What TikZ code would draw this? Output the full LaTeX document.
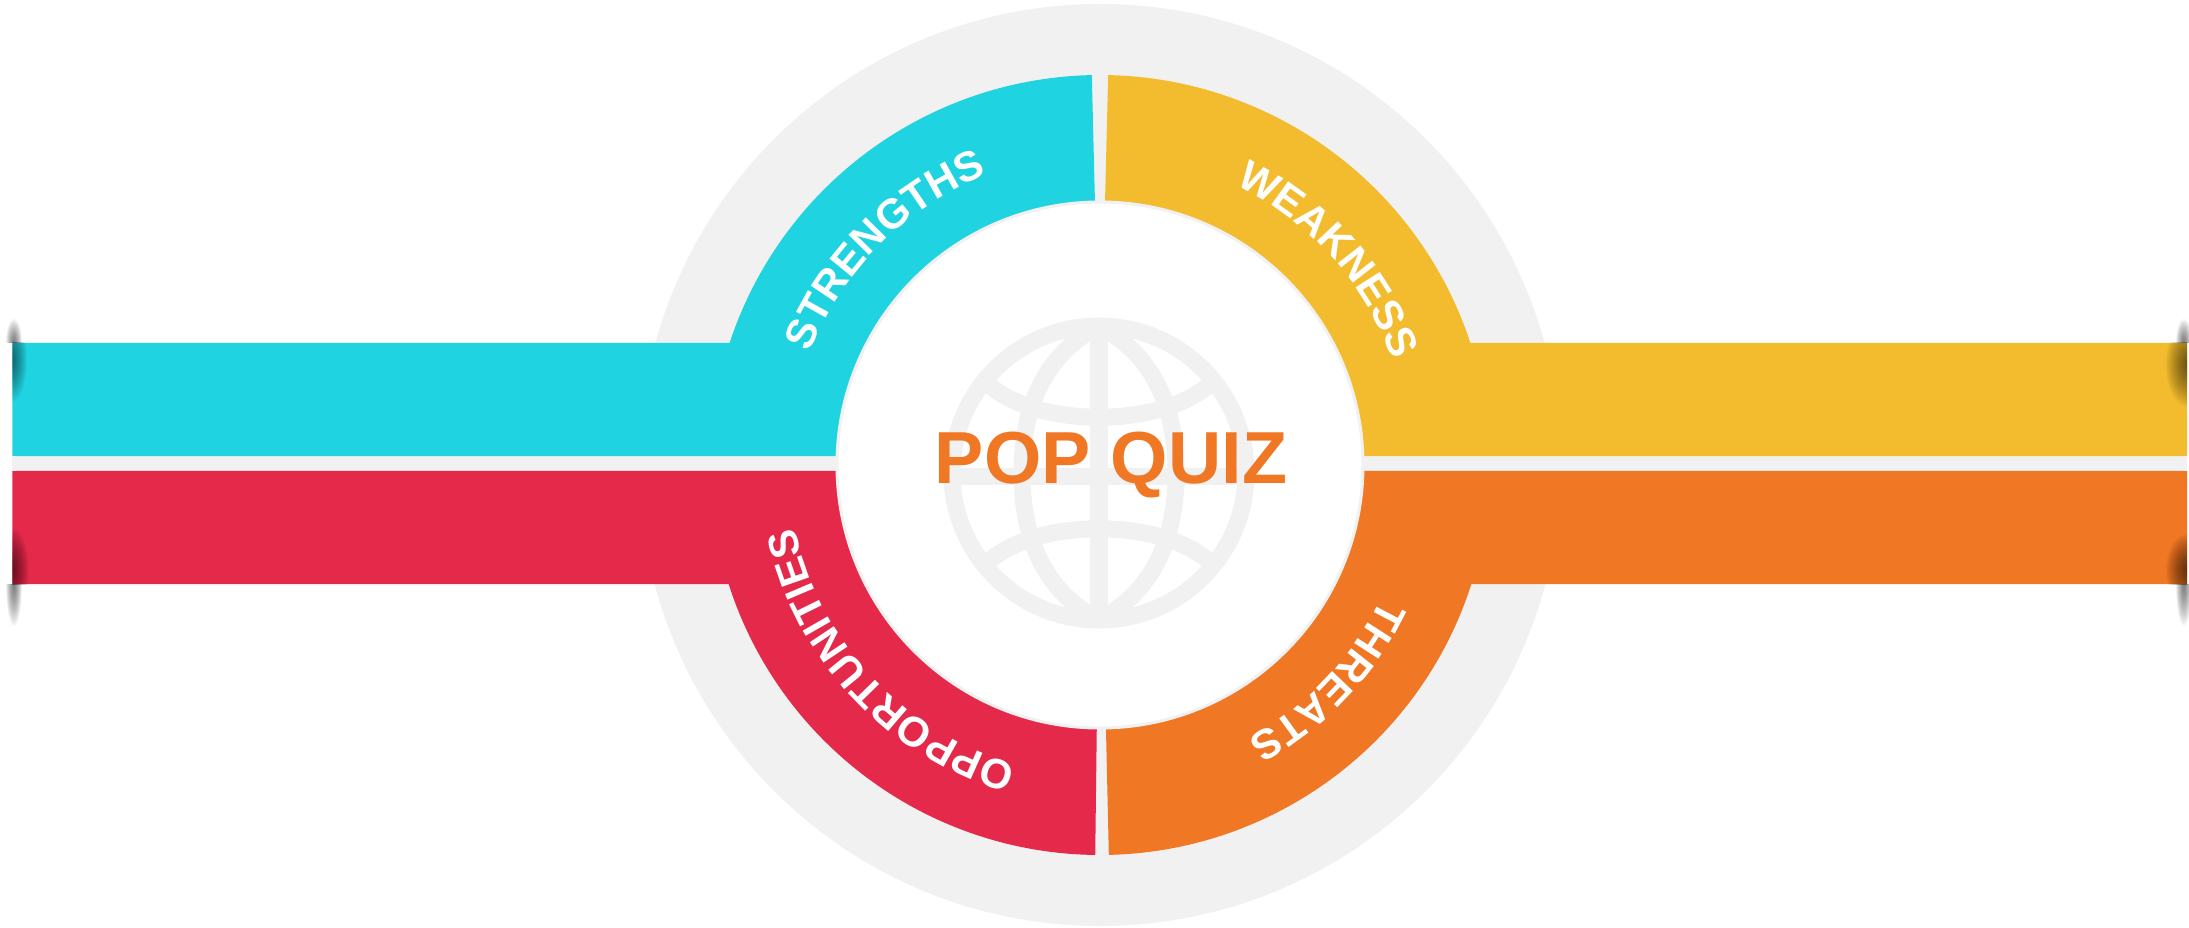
\documentclass[tikz,border=0pt]{standalone}
\usepackage{fontspec}
\setmainfont{Liberation Sans}
\usetikzlibrary{decorations.text}
\definecolor{cyanband}{HTML}{20D3E0}
\definecolor{yellowband}{HTML}{F2BC2E}
\definecolor{redband}{HTML}{E5294B}
\definecolor{orangeband}{HTML}{F07724}
\definecolor{pale}{HTML}{F1F1F1}
\newcommand\arclabel{\fontsize{42}{42}\selectfont\bfseries\color{white}}
\newcommand\softspot[5]{\foreach \k in {1,...,20}{\fill[black,opacity=#5] (#1,#2) ellipse [x radius=#3*\k/20, y radius=#4*\k/20];}}
\tikzset{
  paledisc/.style={fill=pale},
  globeline/.style={draw=pale,line width=17bp},
  textarc/.style={decorate,decoration={text along path,text align=center,text={#1}}}
}
\begin{document}
\begin{tikzpicture}[x=1bp,y=1bp]
\useasboundingbox (-1100bp,-463bp) rectangle (1089bp,465bp);
\fill[paledisc] (0bp,0bp) circle[radius=461bp];
\begin{scope}
  \clip (-1100bp,122bp) rectangle (-1060bp,465bp);
  \softspot{-1086}{122}{8}{24}{0.035}
\end{scope}
\begin{scope}
  \clip (-1100bp,-119bp) rectangle (-1060bp,-463bp);
  \softspot{-1086}{-119}{8}{42}{0.035}
\end{scope}
\begin{scope}
  \clip (1089bp,122bp) rectangle (1050bp,465bp);
  \softspot{1084}{122}{8}{24}{0.035}
\end{scope}
\begin{scope}
  \clip (1089bp,-119bp) rectangle (1050bp,-463bp);
  \softspot{1084}{-119}{8}{42}{0.035}
\end{scope}
\fill[pale] (-1088bp,9bp) rectangle (1087bp,-6bp);
\fill[cyanband] (-1087.5bp,122bp) -- (161.77:390bp) arc[start angle=161.77,end angle=91.2,radius=390bp]
  -- (91.1:264bp) arc[start angle=91.1,end angle=178.05,radius=264bp] -- (-1087.5bp,9bp) -- cycle;
\fill[yellowband] (1087bp,122bp) -- (18.23:390bp) arc[start angle=18.23,end angle=88.8,radius=390bp]
  -- (88.9:264bp) arc[start angle=88.9,end angle=1.95,radius=264bp] -- (1087bp,9bp) -- cycle;
\fill[redband] (-1087.5bp,-119bp) -- (197.77:390bp) arc[start angle=197.77,end angle=269.3,radius=390bp]
  -- (269.3:264bp) arc[start angle=269.3,end angle=181.3,radius=264bp] -- (-1087.5bp,-6bp) -- cycle;
\fill[orangeband] (1087bp,-119bp) -- (-17.77:390bp) arc[start angle=-17.77,end angle=-88.7,radius=390bp]
  -- (-88.7:264bp) arc[start angle=-88.7,end angle=-1.3,radius=264bp] -- (1087bp,-6bp) -- cycle;
\begin{scope}
  \clip (-1087.5bp,122bp) rectangle (-1040bp,9bp);
  \softspot{-1088}{105}{15}{42}{0.03}
\end{scope}
\begin{scope}
  \clip (-1087.5bp,-119bp) rectangle (-1040bp,-6bp);
  \softspot{-1088}{-105}{17}{42}{0.035}
\end{scope}
\begin{scope}
  \clip (1087bp,122bp) rectangle (1040bp,9bp);
  \softspot{1088}{100}{22}{42}{0.035}
\end{scope}
\begin{scope}
  \clip (1087bp,-119bp) rectangle (1040bp,-6bp);
  \softspot{1088}{-105}{22}{36}{0.04}
\end{scope}
\fill[white,draw=pale,line width=3bp] (0bp,0bp) circle[radius=263bp];
\begin{scope}[shift={(-1bp,-8bp)}]
  \draw[globeline] (0bp,0bp) circle[radius=147bp];
  \draw[globeline] (0bp,147bp) .. controls (-55bp,118bp) and (-77bp,65bp) .. (-77bp,0bp) .. controls (-77bp,-65bp) and (-55bp,-118bp) .. (0bp,-147bp);
  \draw[globeline] (0bp,147bp) .. controls (55bp,118bp) and (77bp,65bp) .. (77bp,0bp) .. controls (77bp,-65bp) and (55bp,-118bp) .. (0bp,-147bp);
  \draw[globeline] (0bp,147bp) -- (0bp,-147bp);
  \draw[globeline] (-147bp,-3bp) -- (147bp,-3bp);
  \draw[globeline] (-110bp,88bp) .. controls (-60bp,45bp) and (60bp,45bp) .. (110bp,88bp);
  \draw[globeline] (-110bp,-88bp) .. controls (-60bp,-45bp) and (60bp,-45bp) .. (110bp,-88bp);
\end{scope}
\node[anchor=base,inner sep=0pt,text=orangeband,font=\fontsize{74}{74}\selectfont\bfseries] (title) at (11bp,-18bp) {POP QUIZ};
\path[textarc={|\arclabel|STRENGTHS}] (180:311bp) arc[start angle=180,end angle=90,radius=311bp];
\path[textarc={|\arclabel|WEAKNESS}] (87:311bp) arc[start angle=87,end angle=-3,radius=311bp];
\path[textarc={|\arclabel|THREATS}] (1:311bp) arc[start angle=1,end angle=-88,radius=311bp];
\path[textarc={|\arclabel|OPPORTUNITIES}] (-92:311bp) arc[start angle=-92,end angle=-182,radius=311bp];
\end{tikzpicture}
\end{document}
